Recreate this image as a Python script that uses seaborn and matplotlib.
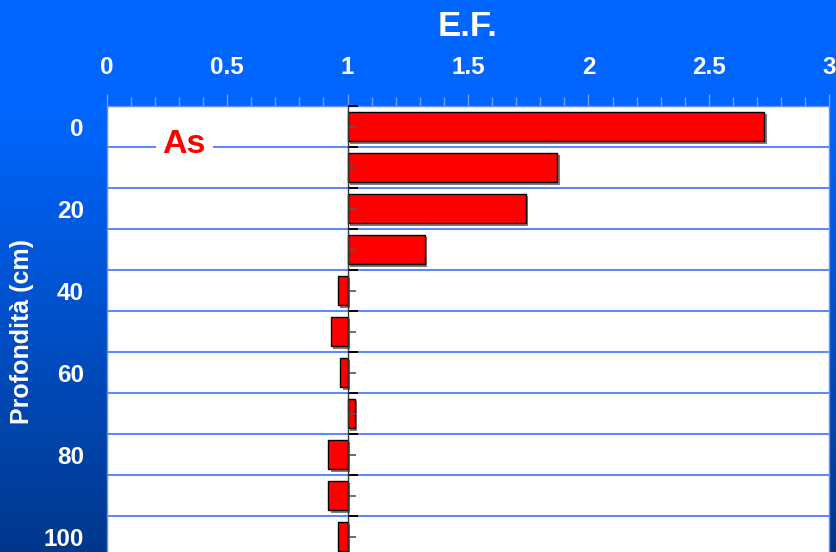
import numpy as np
import pandas as pd
import matplotlib
matplotlib.use("Agg")
import matplotlib.pyplot as plt
import matplotlib.patheffects as pe
from matplotlib.ticker import MultipleLocator
from matplotlib.colors import to_rgb
import seaborn as sns

# Enrichment factor of arsenic along the soil profile
depth_cm = [0, 10, 20, 30, 40, 50, 60, 70, 80, 90, 100]
ef_as = [2.73, 1.87, 1.74, 1.32, 0.96, 0.93, 0.97, 1.03, 0.92, 0.92, 0.96]
depth_labels = [0, 20, 40, 60, 80, 100]
ef_ticks = [0, 0.5, 1, 1.5, 2, 2.5, 3]
ef_tick_labels = ["0", "0.5", "1", "1.5", "2", "2.5", "3"]
baseline_ef = 1.0

sns.set_theme(style="white")
plt.rcParams["font.family"] = ["Liberation Sans", "DejaVu Sans"]
plt.rcParams["font.weight"] = "bold"

W, H = 837, 552
fig = plt.figure(figsize=(W / 100, H / 100), dpi=100)

# vertical blue gradient backdrop
bg = fig.add_axes([0, 0, 1, 1], zorder=-10)
top_c = np.array(to_rgb("#0066FF"))
bot_c = np.array(to_rgb("#00378C"))
rows = np.linspace(0, 1, H)
t = np.clip((rows - 0.2) / 0.8, 0, 1)[:, None]
grad = (top_c * (1 - t) + bot_c * t)[:, None, :]
bg.imshow(grad, aspect="auto", extent=[0, 1, 0, 1], origin="upper")
bg.set_axis_off()

# plotting area
ax_left, ax_right = 106.7, 829.3
ax_top, ax_bottom = 106.0, 557.0
ax = fig.add_axes([ax_left / W, (H - ax_bottom) / H,
                   (ax_right - ax_left) / W, (ax_bottom - ax_top) / H])
ax.set_facecolor("white")

df = pd.DataFrame({"depth": depth_cm, "ef": ef_as})
df["span"] = df["ef"] - baseline_ef

sns.barplot(data=df, x="span", y="depth", orient="h", native_scale=True,
            left=baseline_ef, color="#FF0000", edgecolor="black", linewidth=1,
            width=0.72, errorbar=None, saturation=1, ax=ax, zorder=3)
for bar in ax.patches:
    bar.set_path_effects([pe.SimplePatchShadow(offset=(1.8, -1.8),
                                               shadow_rgbFace="0.4", alpha=0.85),
                          pe.Normal()])

ax.set_xlim(0, 3)
ax.set_ylim(105, -5)

# x axis on top
ax.xaxis.tick_top()
ax.set_xticks(ef_ticks)
ax.set_xticklabels(ef_tick_labels)
ax.xaxis.set_minor_locator(MultipleLocator(0.1))
ax.tick_params(axis="x", which="major", direction="out", length=9, width=1,
               color="#7A98FF", labelcolor="white", labelsize=17.5, pad=10.5,
               top=True, bottom=False)
ax.tick_params(axis="x", which="minor", direction="out", length=6.5, width=1,
               color="#7A98FF", top=True, bottom=False)
ax.set_xlabel("")

# depth labels on the left, separators between bars
ax.set_yticks(depth_labels)
ax.set_yticklabels([str(d) for d in depth_labels])
ax.set_yticks([d + 5 for d in depth_cm[:-1]], minor=True)
ax.tick_params(axis="y", which="both", length=0, labelcolor="white",
               labelsize=17.5, pad=16.5)
ax.set_ylabel("")
ax.grid(False)
ax.yaxis.grid(True, which="minor", color="#4C7DFF", linewidth=1.3, zorder=1)
ax.set_axisbelow(True)
for s in ax.spines.values():
    s.set_visible(True)
    s.set_color("#6A8CFF")
    s.set_linewidth(1)

# category axis crossing at E.F. = 1
sec = ax.secondary_yaxis(baseline_ef / 3)
sec.set_zorder(4)
sec.spines["left"].set_color("#333333")
sec.spines["left"].set_linewidth(1)
sec.set_yticks([d - 5 for d in depth_cm])
sec.set_yticks(depth_cm, minor=True)
sec.tick_params(which="major", direction="in", length=7.5, width=1.4,
                color="black", labelleft=False, labelright=False)
sec.tick_params(which="minor", direction="in", length=6, width=1.2,
                color="#555555", labelleft=False, labelright=False)

ax.text(0.321, 6.45, "As", color="#FF0000", fontsize=24.5, fontweight="bold",
        ha="center", va="baseline", zorder=5,
        bbox=dict(boxstyle="square,pad=0.2", fc="white", ec="none"))

fig.text((ax_left + ax_right) / 2 / W, 1 - 36 / H, "E.F.", color="white",
         fontsize=25, fontweight="bold", ha="center", va="baseline")
fig.text(22 / W, 1 - 332 / H, "Profondità (cm)", color="white", fontsize=18,
         fontweight="bold", rotation=90, ha="center", va="center")

fig.savefig("out.png", dpi=100)
